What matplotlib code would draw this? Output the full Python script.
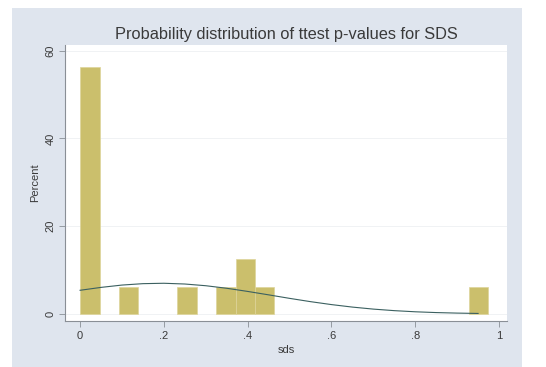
import matplotlib
matplotlib.use("Agg")
import matplotlib.pyplot as plt
from matplotlib.patches import Rectangle

plt.rcParams["font.family"] = ["Liberation Sans", "DejaVu Sans"]

# histogram of sds (percent per bin)
bin_starts = [0.0, 0.0928, 0.232, 0.3248, 0.3712, 0.4176, 0.928]
bin_width = 0.0464
percent = [56.25, 6.25, 6.25, 6.25, 12.5, 6.25, 6.25]

# overlaid normal curve, in percent units
curve_x = [0.0, 0.05, 0.1, 0.15, 0.2, 0.25, 0.3, 0.35, 0.4, 0.45,
           0.5, 0.55, 0.6, 0.65, 0.7, 0.75, 0.8, 0.85, 0.9, 0.95]
curve_y = [5.4, 6.06, 6.59, 6.91, 7.0, 6.83, 6.44, 5.86, 5.14, 4.36,
           3.56, 2.81, 2.14, 1.57, 1.11, 0.76, 0.50, 0.32, 0.20, 0.12]

xticks = [0, 0.2, 0.4, 0.6, 0.8, 1.0]
xticklabels = ["0", ".2", ".4", ".6", ".8", "1"]
yticks = [0, 20, 40, 60]
yticklabels = ["0", "20", "40", "60"]

BG = "#dfe5ee"
BAR = "#cbbf6c"
LINE = "#3b6060"
AXIS = "#8a8f96"
TEXT = "#3a3a3a"

fig = plt.figure(figsize=(5.46, 3.67), dpi=100)
fig.patch.set_facecolor("white")
fig.patches.append(Rectangle((12 / 546, 0), (522 - 12) / 546, 1 - 8 / 367,
                             transform=fig.transFigure, facecolor=BG,
                             edgecolor="none", zorder=-10))

ax = fig.add_axes([65 / 546, 1 - 321 / 367, (507 - 65) / 546, (321 - 45) / 367])
ax.set_facecolor("white")

ax.bar(bin_starts, percent, width=bin_width, align="edge", color=BAR,
       edgecolor="#ddd49a", linewidth=0.5, zorder=2)
ax.plot(curve_x, curve_y, color=LINE, linewidth=0.8, zorder=3)

ax.set_xlim(-0.036, 1.019)
ax.set_ylim(-1.6, 61.3)

ax.set_xticks(xticks)
ax.set_xticklabels(xticklabels)
ax.set_yticks(yticks)
ax.set_yticklabels(yticklabels, rotation=90, va="center")
ax.tick_params(axis="both", direction="out", length=4, width=0.6,
               color=AXIS, labelcolor=TEXT, labelsize=8, pad=3)

ax.grid(True, axis="y", color="#eef0f3", linewidth=0.6, zorder=0)
ax.set_axisbelow(True)

for side in ("top", "right"):
    ax.spines[side].set_visible(False)
for side in ("left", "bottom"):
    ax.spines[side].set_color(AXIS)
    ax.spines[side].set_linewidth(0.8)

ax.set_xlabel("sds", fontsize=8, color=TEXT, labelpad=3)
ax.set_ylabel("Percent", fontsize=8, color=TEXT, labelpad=4)
ax.set_title("Probability distribution of ttest p-values for SDS",
             fontsize=11.8, color=TEXT, pad=4)

fig.savefig("out.png", dpi=100, facecolor="white")
